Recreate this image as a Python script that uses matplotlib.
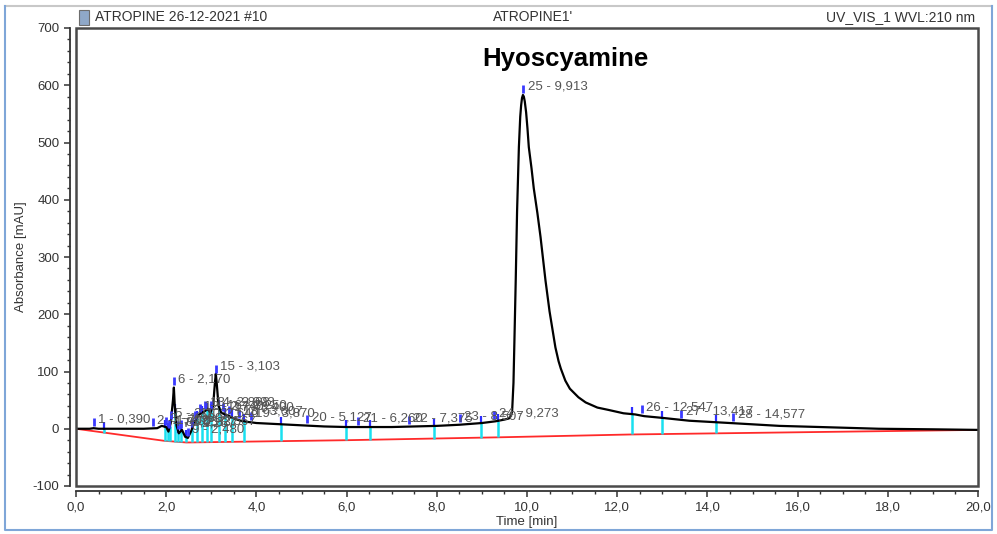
import numpy as np
import matplotlib
matplotlib.use("Agg")
import matplotlib.pyplot as plt
from matplotlib.patches import Rectangle
from matplotlib.lines import Line2D
from matplotlib.ticker import MultipleLocator, FuncFormatter

plt.rcParams['font.family'] = ['Liberation Sans', 'DejaVu Sans']

# chromatogram trace (time in min, absorbance in mAU)
trace_t = [0.0, 0.3, 0.39, 0.5, 1.0, 1.5, 1.8, 1.9, 2.0, 2.05, 2.10, 2.15, 2.17, 2.19,
           2.23, 2.28, 2.35, 2.42, 2.48, 2.55, 2.62, 2.70, 2.78, 2.85, 2.92, 2.98, 3.04,
           3.08, 3.10, 3.12, 3.16, 3.22, 3.30, 3.40, 3.50, 3.65, 3.80, 4.0, 4.5, 5.0,
           5.5, 6.0, 6.5, 7.0, 7.5, 8.0, 8.5, 9.0, 9.3, 9.5, 9.6, 9.64, 9.67, 9.70,
           9.72, 9.75, 9.78, 9.82, 9.85, 9.87, 9.89, 9.91, 9.93, 9.95, 9.98, 10.01,
           10.04, 10.10, 10.15, 10.23, 10.30, 10.41, 10.50, 10.63, 10.70, 10.75, 10.85,
           10.95, 11.14, 11.30, 11.56, 11.80, 12.14, 12.40, 12.6, 13.0, 13.6, 14.5,
           15.6, 16.5, 17.8, 19.0, 20.0]
trace_a = [0, 0, 1, 0, 0, 0, 1, 5, 3, -5, 10, 50, 72, 40,
           5, -8, -2, -14, -16, -5, 10, 22, 28, 30, 35, 28, 40,
           80, 96, 80, 40, 28, 25, 22, 18, 14, 12, 10, 8, 6,
           4, 3, 3, 3, 4, 5, 7, 10, 13, 16, 18, 22, 30, 80,
           150, 259, 380, 492, 545, 565, 578, 583, 580, 572, 553, 525,
           492, 455, 420, 377, 335, 259, 205, 142, 118, 105, 84,
           70, 55, 46, 37, 33, 27, 25, 22, 19, 14, 10,
           5, 3, 0, -1, -2]

# integration baseline (red)
base_t = [0.0, 1.95, 2.45, 6.0, 9.35, 12.3, 20.0]
base_a = [0, -21, -24, -20, -15, -10, -2]

# detected peaks
peak_no = list(range(1, 29))
peak_t = [0.390, 1.702, 1.990, 2.057, 2.103, 2.170, 2.267, 2.337, 2.480, 2.567,
          2.640, 2.740, 2.868, 2.993, 3.103, 3.250, 3.400, 3.607, 3.870, 5.127,
          6.260, 7.375, 8.507, 9.273, 9.913, 12.547, 13.417, 14.577]

# peak boundaries (cyan delimiters)
bound_t = [0.61, 1.97, 2.03, 2.08, 2.20, 2.27, 2.33, 2.45, 2.58, 2.68, 2.80, 2.90,
           3.00, 3.17, 3.30, 3.45, 3.72, 4.54, 5.98, 6.51, 7.93, 8.99, 9.35,
           12.32, 13.0, 14.2]

fig = plt.figure(figsize=(9.97, 5.34), dpi=100)
ax = fig.add_axes([76 / 997, 48 / 534, 902 / 997, 458 / 534])

ax.plot(base_t, base_a, color='#ff2a2a', lw=1.3, zorder=2)

bt = np.array(bound_t)
ax.vlines(bt, np.interp(bt, base_t, base_a), np.interp(bt, trace_t, trace_a),
          color='#19e0f0', lw=1.8, zorder=3)
ax.vlines(bt, np.interp(bt, trace_t, trace_a) - 2, np.interp(bt, trace_t, trace_a) + 12,
          color='#2d2dff', lw=1.6, zorder=3)

ax.plot(trace_t, trace_a, color='black', lw=1.6, zorder=4)

pt = np.array(peak_t)
top = np.interp(pt, trace_t, trace_a)
ax.vlines(pt, top + 4, top + 18, color='#3a3aff', lw=2.0, zorder=5)
for n, t, h in zip(peak_no, peak_t, top):
    lab = f"{n} - {t:.3f}".replace('.', ',')
    ax.text(t + 0.1, h + 4, lab, fontsize=9.5, color='#555555',
            ha='left', va='bottom', zorder=6)

ax.text(0.542, 0.932, 'Hyoscyamine', transform=ax.transAxes, fontsize=18.5,
        fontweight='bold', ha='center', va='center', color='black')

ax.set_xlim(0, 20)
ax.set_ylim(-100, 700)
ax.xaxis.set_major_locator(MultipleLocator(2))
ax.xaxis.set_minor_locator(MultipleLocator(0.5))
ax.yaxis.set_major_locator(MultipleLocator(100))
ax.yaxis.set_minor_locator(MultipleLocator(20))
ax.xaxis.set_major_formatter(FuncFormatter(lambda v, p: f"{v:.1f}".replace('.', ',')))
ax.yaxis.set_major_formatter(FuncFormatter(lambda v, p: f"{v:.0f}"))

for s in ['top', 'right']:
    ax.spines[s].set_visible(False)
ax.spines['left'].set_position(('outward', 4.5))
ax.spines['bottom'].set_position(('outward', 3.8))
ax.spines['left'].set_color('#333333')
ax.spines['bottom'].set_color('#333333')
ax.spines['left'].set_linewidth(1.3)
ax.spines['bottom'].set_linewidth(1.3)
ax.tick_params(which='major', length=4, width=1.1, colors='#333333', labelsize=9.5,
               labelcolor='#333333')
ax.tick_params(which='minor', length=2.5, width=1.0, colors='#333333')
ax.set_xlabel('Time [min]', fontsize=9.5, color='#333333', labelpad=2)
ax.set_ylabel('Absorbance [mAU]', fontsize=9.5, color='#333333', labelpad=4)

ax.add_patch(Rectangle((0, 0), 1, 1, transform=ax.transAxes, fill=False,
                       ec='#4a4a4a', lw=1.8, clip_on=False, zorder=7))

# header band
fig.text(95 / 997, 1 - 17 / 534, 'ATROPINE 26-12-2021 #10', fontsize=10,
         color='#333333', ha='left', va='center')
fig.text(533 / 997, 1 - 17 / 534, "ATROPINE1'", fontsize=10,
         color='#333333', ha='center', va='center')
fig.text(975 / 997, 1 - 17 / 534, 'UV_VIS_1 WVL:210 nm', fontsize=10,
         color='#333333', ha='right', va='center')
fig.patches.append(Rectangle((79 / 997, 1 - 25 / 534), 10 / 997, 15 / 534,
                             transform=fig.transFigure, fc='#8fa8c8', ec='#6d6d6d',
                             lw=0.8))

# outer frame of the screenshot
fig.lines.append(Line2D([5 / 997, 992 / 997], [1 - 6 / 534, 1 - 6 / 534],
                        transform=fig.transFigure, color='#c8c8c8', lw=1.5))
fig.lines.append(Line2D([5 / 997, 5 / 997, 992 / 997, 992 / 997],
                        [1 - 6 / 534, 1 - 530 / 534, 1 - 530 / 534, 1 - 6 / 534],
                        transform=fig.transFigure, color='#7fa6d8', lw=1.5))

fig.savefig('out.png', dpi=100)
